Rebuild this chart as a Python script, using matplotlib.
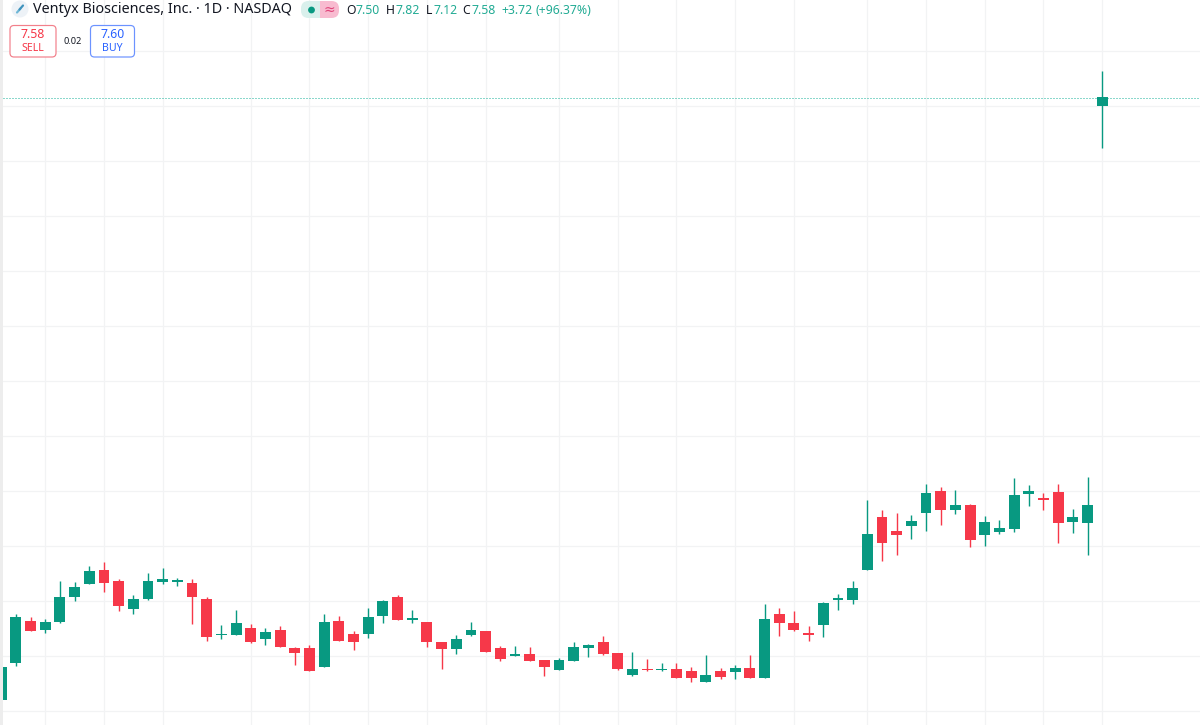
import numpy as np
import matplotlib as mpl
mpl.use('Agg')
import matplotlib.pyplot as plt
from matplotlib.patches import FancyBboxPatch, Circle, Rectangle

# daily candles
opens = [2.10,2.44,2.82,2.74,2.81,3.04,3.15,3.28,3.18,2.93,3.02,3.17,3.17,3.16,3.02,2.69,2.69,2.75,2.65,2.74,
         2.57,2.57,2.40,2.82,2.70,2.70,2.86,3.04,2.83,2.81,2.63,2.56,2.69,2.73,2.57,2.50,2.52,2.46,2.37,2.45,
         2.57,2.63,2.53,2.33,2.38,2.37,2.38,2.36,2.26,2.36,2.35,2.39,2.30,2.88,2.80,2.71,2.78,3.01,3.01,3.28,
         3.76,3.64,3.68,3.80,4.00,3.83,3.87,3.60,3.63,3.65,3.97,3.94,3.99,3.72,3.71,7.50]
highs = [2.40,2.88,2.85,2.84,3.18,3.17,3.32,3.35,3.20,3.05,3.25,3.30,3.21,3.20,3.04,2.78,2.92,2.79,2.75,2.77,
         2.58,2.60,2.88,2.86,2.73,2.94,3.01,3.05,2.92,2.81,2.63,2.69,2.81,2.73,2.59,2.59,2.58,2.46,2.48,2.63,
         2.61,2.68,2.53,2.54,2.47,2.44,2.44,2.40,2.51,2.39,2.42,2.51,2.97,2.94,2.91,2.77,2.99,3.06,3.18,3.92,
         3.83,3.80,3.78,4.06,4.04,4.01,3.88,3.77,3.74,4.12,4.05,3.98,4.06,3.84,4.13,7.82]
lows = [2.10,2.41,2.73,2.71,2.80,3.00,3.15,3.08,2.91,2.88,3.01,3.15,3.14,2.79,2.64,2.65,2.69,2.62,2.60,2.58,
        2.42,2.36,2.40,2.64,2.55,2.66,2.80,2.83,2.80,2.58,2.38,2.52,2.68,2.54,2.45,2.50,2.45,2.32,2.37,2.45,
        2.49,2.51,2.37,2.32,2.36,2.36,2.30,2.26,2.26,2.29,2.29,2.30,2.30,2.68,2.73,2.64,2.67,2.92,2.97,3.28,
        3.36,3.42,3.56,3.64,3.69,3.79,3.49,3.50,3.61,3.63,3.86,3.83,3.53,3.62,3.42,7.12]
closes = [2.40,2.85,2.73,2.81,3.04,3.13,3.27,3.16,2.95,3.02,3.18,3.20,3.19,3.04,2.67,2.70,2.80,2.63,2.72,2.58,
          2.53,2.36,2.81,2.64,2.63,2.85,3.00,2.83,2.84,2.63,2.56,2.65,2.74,2.54,2.47,2.52,2.45,2.40,2.46,2.58,
          2.60,2.52,2.38,2.38,2.37,2.38,2.30,2.30,2.33,2.31,2.39,2.30,2.84,2.80,2.74,2.69,2.98,3.03,3.12,3.61,
          3.53,3.60,3.73,3.98,3.83,3.87,3.55,3.72,3.66,3.96,4.00,3.92,3.71,3.76,3.87,7.58]

price_grid = [2.0,2.5,3.0,3.5,4.0,4.5,5.0,5.5,6.0,6.5,7.0,7.5,8.0]
time_grid = [3,7,11,17,21,25,29,33,38,42,46,50,54,59,63,67,71,75]
last_price = 7.58

GREEN = '#089981'
RED = '#F63849'
GRID = '#F2F3F4'

px = 1 / 100 * 72  # one pixel in points

fig = plt.figure(figsize=(12, 7.25), dpi=100, facecolor='#EDEDED')
ax = fig.add_axes([3 / 1200, 0, 1197 / 1200, 1], facecolor='white')

x = np.arange(len(opens))
o = np.array(opens)
h = np.array(highs)
l = np.array(lows)
c = np.array(closes)
colors = [GREEN if c[i] >= o[i] else RED for i in x]

ax.vlines(time_grid, 0, 10, color=GRID, lw=1.2 * px, zorder=1)
ax.hlines(price_grid, -5, 100, color=GRID, lw=1.2 * px, zorder=1)
# price line sits half a pixel lower than the grid offset would put it
ax.axhline(last_price - 0.008, color='#18B39A', lw=1 * px, ls=(0, (1, 2)), zorder=2)

ax.vlines(x, l, h, color=colors, lw=1.4 * px, zorder=3)
body = np.maximum(np.abs(c - o), 0.012)
ax.bar(x, body, bottom=np.minimum(o, c), width=0.74, color=colors, lw=0, zorder=4)

ax.set_xlim((3 - 1.2) / 14.68, (1200 - 1.2) / 14.68)
ax.set_ylim(7.5 - (725 - 105.9) / 110, 7.5 + 105.9 / 110)
ax.set_xticks([])
ax.set_yticks([])
for s in ax.spines.values():
    s.set_visible(False)

# ---- header, in pixel coordinates -------------------------
top = fig.add_axes([0, 0, 1, 1], facecolor='none')
top.set_xlim(0, 1200)
top.set_ylim(725, 0)
top.axis('off')

FONT = 'Noto Sans'
DARK = '#131722'
TEAL = '#22AB94'

# chain-link logo
top.add_patch(Circle((20, 9), 8.5, color='#EDF2F7', lw=0))
top.plot([17, 20.5], [12.5, 8.5], color='#6FB7D6', lw=2.2 * px, solid_capstyle='round')
top.plot([19.5, 23], [9.5, 5.5], color='#3F93BD', lw=2.2 * px, solid_capstyle='round')

top.text(33, 9, 'Ventyx Biosciences, Inc. \u00b7 1D \u00b7 NASDAQ', fontsize=10.35, color=DARK,
         ha='left', va='center', family=FONT)

top.add_patch(Rectangle((309, 1), 10.5, 17, fc='#D9F0EC', ec='none'))
top.add_patch(FancyBboxPatch((301, 1), 15, 17, boxstyle='round,pad=0,rounding_size=7.5',
                             fc='#D9F0EC', ec='none'))
top.add_patch(Rectangle((319.5, 1), 12, 17, fc='#F8BBD0', ec='none'))
top.add_patch(FancyBboxPatch((324, 1), 15, 17, boxstyle='round,pad=0,rounding_size=7.5',
                             fc='#F8BBD0', ec='none'))
top.add_patch(Circle((311.5, 10), 3.4, color=GREEN, lw=0))
top.text(329, 9.5, '\u2248', fontsize=10, color='#E0457B', ha='center', va='center', family='DejaVu Sans')

ohlc_text = [(346, 'O', DARK), (356, '7.50', TEAL), (386, 'H', DARK), (395, '7.82', TEAL),
             (426, 'L', DARK), (433, '7.12', TEAL), (462, 'C', DARK), (471, '7.58', TEAL),
             (501, '+3.72', TEAL), (536, '(+96.37%)', TEAL)]
for tx, s, col in ohlc_text:
    top.text(tx, 10, s, fontsize=8.8, color=col, ha='left', va='center', family=FONT)

for x0, x1, col, edge, val, lab in [(10, 56, RED, '#F2808B', '7.58', 'SELL'),
                                    (90.5, 134.5, '#2962FF', '#6C93FF', '7.60', 'BUY')]:
    top.add_patch(FancyBboxPatch((x0, 25.5), x1 - x0, 31.5, boxstyle='round,pad=0,rounding_size=4',
                                 fc='white', ec=edge, lw=1.2 * px))
    top.text((x0 + x1) / 2, 34, val, fontsize=8.8, color=col, ha='center', va='center', family=FONT, weight='semibold')
    top.text((x0 + x1) / 2, 48, lab, fontsize=7.6, color=col, ha='center', va='center', family=FONT)
top.text(73, 41, '0.02', fontsize=6.6, color=DARK, ha='center', va='center', family=FONT)

fig.savefig('out.png', dpi=100, facecolor=fig.get_facecolor())
